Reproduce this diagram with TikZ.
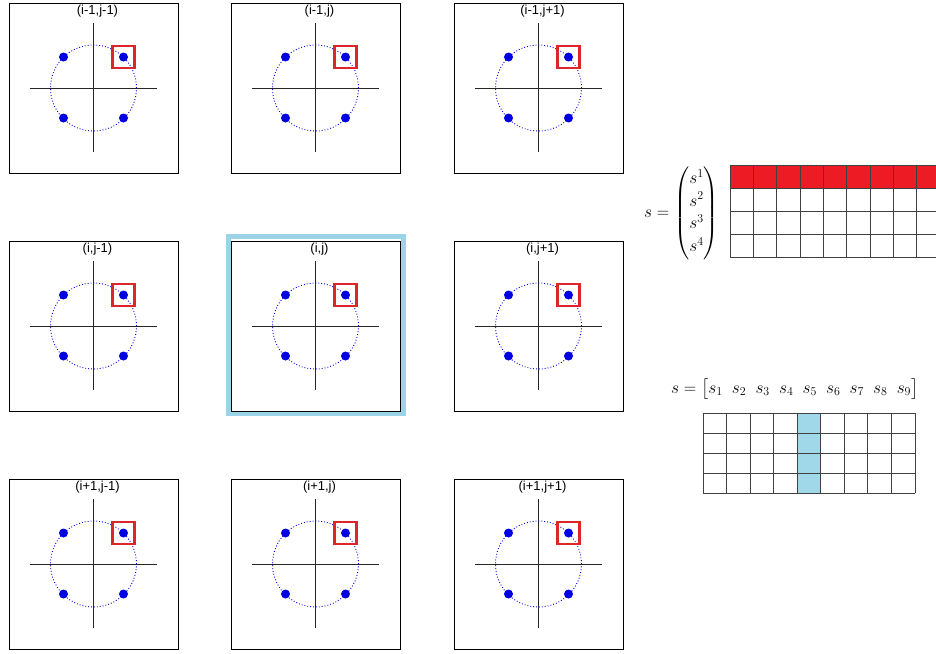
\documentclass[tikz,border=0pt]{standalone}
\usepackage{amsmath}
\usepackage{fontspec}
\setsansfont{Liberation Sans}
\usepackage{tikz}
\usetikzlibrary{positioning}
\definecolor{dotblue}{RGB}{0,0,225}
\definecolor{pickred}{RGB}{220,38,44}
\definecolor{rowred}{RGB}{237,28,36}
\definecolor{framecyan}{RGB}{155,212,230}
\definecolor{colcyan}{RGB}{160,216,234}
\tikzset{
  cellbox/.style={rectangle, draw=black, line width=0.9pt, minimum width=169pt,
    minimum height=170pt, inner sep=0pt},
  celltitle/.style={font=\sffamily\fontsize{13}{15}\selectfont, inner sep=0pt},
  axisline/.style={draw=black!85, line width=1pt},
  orbit/.style={draw=dotblue, dotted, line width=0.9pt},
  symdot/.style={fill=dotblue},
  pickbox/.style={draw=pickred, line width=2.6pt},
  focusframe/.style={rectangle, draw=framecyan, line width=5pt, minimum width=175pt,
    minimum height=177pt, inner sep=0pt},
  gridline/.style={draw=black!75, line width=0.9pt},
  vecnode/.style={inner sep=0pt, font=\fontsize{17.28}{20.7}\selectfont}
}

\begin{document}
\begin{tikzpicture}[x=1pt, y=-1pt]
  \useasboundingbox (0,0) rectangle (936,653);

  % 3x3 neighbourhood of constellations
  \node[focusframe] (focus) at (315.5,325) {};
  \foreach \r/\cy/\ri in {0/88/i-1, 1/326/i, 2/564/i+1} {
    \foreach \c/\cx/\cj in {0/93.5/j-1, 1/315.5/j, 2/538.5/j+1} {
      \node[cellbox] (cell-\r-\c) at (\cx,\cy) {};
      \node[celltitle, below=2pt of cell-\r-\c.north, xshift=4pt] (title-\r-\c) {(\ri,\cj)};
      \draw[axisline] (\cx-64,\cy) -- (\cx+63,\cy);
      \draw[axisline] (\cx,\cy-65) -- (\cx,\cy+64);
      \draw[orbit] (\cx,\cy) circle[radius=43pt];
      \foreach \dx/\dy in {-30/-31, 30/-31, -30/30, 30/30}
        \fill[symdot] (\cx+\dx,\cy+\dy) circle[radius=4.5pt];
      \draw[pickbox] (\cx+19,\cy-42) rectangle (\cx+41,\cy-20);
    }
  }

  % column vector of rows
  \node[vecnode, anchor=east] (colvec) at (719,213)
    {$s=\renewcommand{\arraystretch}{1.1}\begin{pmatrix}s^1\\s^2\\s^3\\s^4\end{pmatrix}$};
  \fill[rowred] (730,165) rectangle (940,188);
  \foreach \k in {0,...,9}
    \draw[gridline] (730+\k*23.33,165) -- (730+\k*23.33,257);
  \foreach \k in {0,...,4}
    \draw[gridline] (730,165+\k*23) -- (940,165+\k*23);

  % row vector of columns
  \node[vecnode, anchor=west] (rowvec) at (671,389)
    {$s=\setlength{\arraycolsep}{4.6pt}\begin{bmatrix}s_1&s_2&s_3&s_4&s_5&s_6&s_7&s_8&s_9\end{bmatrix}$};
  \fill[colcyan] (797.2,413) rectangle (820.8,493);
  \foreach \k in {0,...,9}
    \draw[gridline] (703+\k*23.56,413) -- (703+\k*23.56,493);
  \foreach \k in {0,...,4}
    \draw[gridline] (703,413+\k*20) -- (915,413+\k*20);
\end{tikzpicture}
\end{document}
